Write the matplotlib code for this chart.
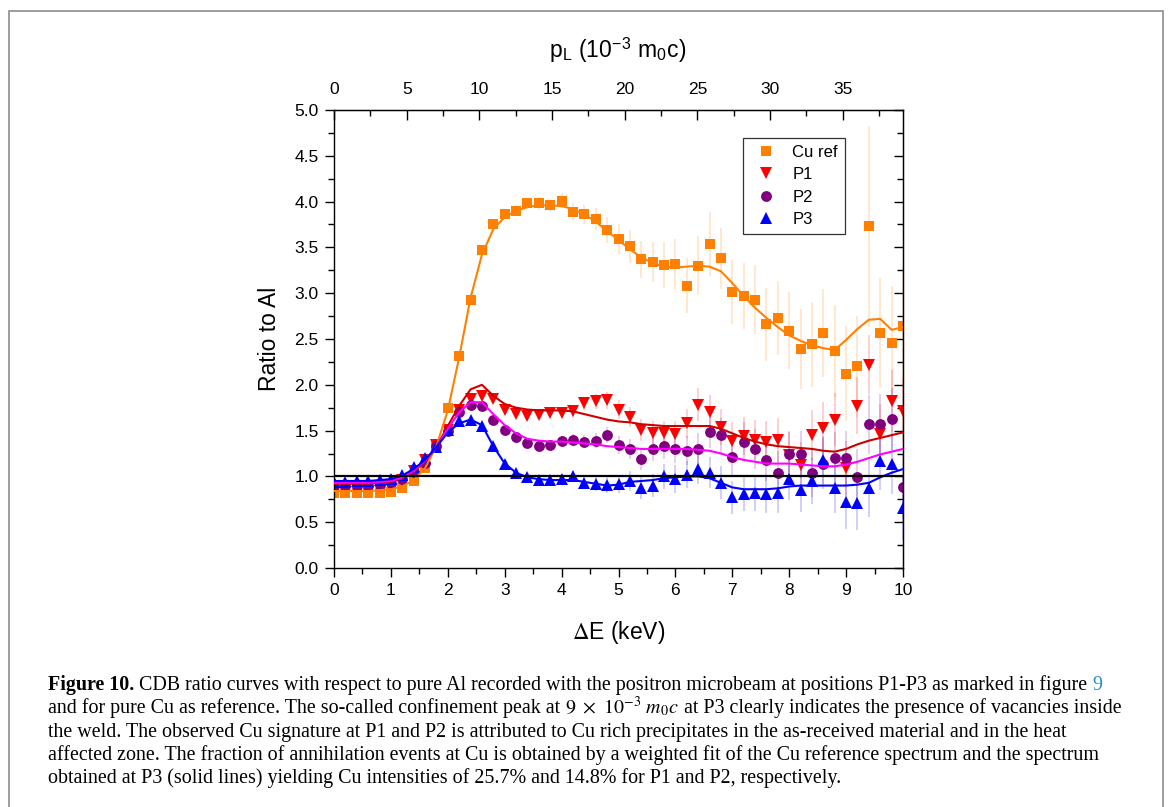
import matplotlib
matplotlib.use("Agg")
import matplotlib.pyplot as plt
import numpy as np
from matplotlib.lines import Line2D
from matplotlib.patches import Rectangle
from matplotlib.ticker import MultipleLocator, FormatStrFormatter

plt.rcParams['font.family'] = ['Liberation Sans', 'DejaVu Sans']
plt.rcParams['mathtext.fontset'] = 'stix'

# ---------------- data ----------------
energy = [0.0, 0.2, 0.4, 0.6, 0.8, 1.0, 1.2, 1.4, 1.6, 1.8, 2.0,
          2.2, 2.4, 2.6, 2.8, 3.0, 3.2, 3.4, 3.6, 3.8, 4.0,
          4.2, 4.4, 4.6, 4.8, 5.0, 5.2, 5.4, 5.6, 5.8, 6.0,
          6.2, 6.4, 6.6, 6.8, 7.0, 7.2, 7.4, 7.6, 7.8, 8.0,
          8.2, 8.4, 8.6, 8.8, 9.0, 9.2, 9.4, 9.6, 9.8, 10.0]

cu_ref = [0.82, 0.82, 0.82, 0.82, 0.82, 0.83, 0.87, 0.95, 1.09, 1.33, 1.75,
          2.31, 2.93, 3.47, 3.76, 3.87, 3.90, 3.98, 3.98, 3.96, 4.01,
          3.89, 3.86, 3.81, 3.69, 3.59, 3.51, 3.37, 3.34, 3.31, 3.32,
          3.08, 3.30, 3.54, 3.38, 3.01, 2.97, 2.93, 2.66, 2.73, 2.59,
          2.39, 2.44, 2.57, 2.37, 2.12, 2.20, 3.73, 2.57, 2.46, 2.64]
cu_err = [0.01, 0.01, 0.01, 0.01, 0.01, 0.01, 0.01, 0.02, 0.02, 0.02, 0.03,
          0.03, 0.04, 0.04, 0.05, 0.05, 0.06, 0.06, 0.07, 0.07, 0.08,
          0.09, 0.10, 0.12, 0.14, 0.16, 0.18, 0.20, 0.22, 0.25, 0.27,
          0.30, 0.32, 0.35, 0.33, 0.35, 0.36, 0.38, 0.40, 0.40, 0.42,
          0.44, 0.46, 0.48, 0.50, 0.52, 0.55, 1.10, 0.60, 0.62, 0.65]

p1 = [0.89, 0.89, 0.89, 0.89, 0.90, 0.91, 0.96, 1.06, 1.18, 1.34, 1.51,
      1.72, 1.85, 1.88, 1.84, 1.72, 1.68, 1.66, 1.67, 1.69, 1.69,
      1.71, 1.80, 1.82, 1.83, 1.73, 1.645, 1.51, 1.47, 1.47, 1.46,
      1.58, 1.78, 1.70, 1.54, 1.39, 1.44, 1.40, 1.38, 1.40, 1.23,
      1.12, 1.45, 1.53, 1.62, 1.09, 1.77, 2.22, 1.46, 1.82, 1.71]
p1_err = [0.01, 0.01, 0.01, 0.01, 0.01, 0.01, 0.01, 0.01, 0.01, 0.01, 0.01,
          0.02, 0.02, 0.02, 0.03, 0.03, 0.03, 0.04, 0.04, 0.05, 0.05,
          0.06, 0.07, 0.08, 0.09, 0.10, 0.11, 0.12, 0.13, 0.14, 0.15,
          0.16, 0.18, 0.19, 0.20, 0.20, 0.21, 0.22, 0.23, 0.24, 0.25,
          0.26, 0.27, 0.28, 0.29, 0.30, 0.31, 0.32, 0.33, 0.34, 0.35]

p2 = [0.90, 0.90, 0.90, 0.90, 0.91, 0.93, 0.97, 1.05, 1.15, 1.33, 1.50,
      1.70, 1.78, 1.77, 1.62, 1.51, 1.43, 1.36, 1.33, 1.34, 1.39,
      1.40, 1.38, 1.39, 1.45, 1.34, 1.30, 1.19, 1.30, 1.33, 1.30,
      1.28, 1.30, 1.49, 1.45, 1.21, 1.38, 1.30, 1.18, 1.04, 1.25,
      1.24, 1.04, 1.14, 1.20, 1.20, 0.99, 1.57, 1.57, 1.63, 0.88]
p2_err = [0.01, 0.01, 0.01, 0.01, 0.01, 0.01, 0.01, 0.01, 0.01, 0.01, 0.01,
          0.02, 0.02, 0.02, 0.03, 0.03, 0.03, 0.04, 0.04, 0.05, 0.05,
          0.06, 0.07, 0.08, 0.09, 0.10, 0.11, 0.12, 0.13, 0.14, 0.15,
          0.16, 0.17, 0.18, 0.19, 0.20, 0.21, 0.22, 0.23, 0.24, 0.25,
          0.26, 0.27, 0.28, 0.29, 0.30, 0.31, 0.32, 0.33, 0.34, 0.35]

p3 = [0.94, 0.94, 0.95, 0.95, 0.96, 0.97, 1.02, 1.10, 1.20, 1.32, 1.51,
      1.60, 1.62, 1.55, 1.33, 1.14, 1.04, 0.99, 0.96, 0.96, 0.97,
      1.00, 0.93, 0.92, 0.91, 0.92, 0.95, 0.87, 0.90, 1.00, 0.97,
      1.02, 1.08, 1.04, 0.93, 0.77, 0.81, 0.82, 0.81, 0.82, 0.97,
      0.85, 0.95, 1.18, 0.87, 0.72, 0.71, 0.87, 1.17, 1.14, 0.65]
p3_err = [0.01, 0.01, 0.01, 0.01, 0.01, 0.01, 0.01, 0.01, 0.01, 0.01, 0.01,
          0.02, 0.02, 0.02, 0.03, 0.03, 0.03, 0.04, 0.04, 0.05, 0.05,
          0.06, 0.07, 0.08, 0.09, 0.10, 0.11, 0.12, 0.13, 0.14, 0.15,
          0.15, 0.16, 0.17, 0.18, 0.18, 0.19, 0.20, 0.21, 0.22, 0.23,
          0.24, 0.25, 0.26, 0.27, 0.29, 0.30, 0.31, 0.32, 0.33, 0.34]

# fitted curves (solid lines)
cu_fit = [0.84, 0.84, 0.84, 0.84, 0.85, 0.86, 0.89, 0.96, 1.09, 1.33, 1.72,
          2.30, 2.95, 3.42, 3.70, 3.83, 3.90, 3.94, 3.96, 3.96, 3.95,
          3.92, 3.86, 3.78, 3.68, 3.58, 3.48, 3.39, 3.33, 3.29, 3.28,
          3.29, 3.30, 3.29, 3.24, 3.11, 2.97, 2.84, 2.73, 2.63, 2.54,
          2.48, 2.43, 2.40, 2.38, 2.49, 2.61, 2.71, 2.72, 2.60, 2.63]
p1_fit = [0.92, 0.92, 0.92, 0.92, 0.93, 0.94, 0.98, 1.05, 1.16, 1.32, 1.55,
          1.77, 1.95, 2.00, 1.88, 1.79, 1.75, 1.73, 1.72, 1.72, 1.72,
          1.71, 1.68, 1.65, 1.62, 1.60, 1.59, 1.57, 1.56, 1.55, 1.55,
          1.55, 1.55, 1.55, 1.52, 1.47, 1.42, 1.38, 1.35, 1.33, 1.32,
          1.31, 1.30, 1.28, 1.27, 1.30, 1.35, 1.39, 1.42, 1.45, 1.48]
p2_fit = [0.93, 0.93, 0.93, 0.93, 0.94, 0.95, 0.99, 1.06, 1.17, 1.32, 1.52,
          1.70, 1.81, 1.81, 1.68, 1.56, 1.47, 1.41, 1.39, 1.38, 1.38,
          1.37, 1.36, 1.35, 1.33, 1.32, 1.31, 1.30, 1.30, 1.30, 1.30,
          1.30, 1.29, 1.28, 1.25, 1.21, 1.18, 1.16, 1.14, 1.14, 1.14,
          1.13, 1.12, 1.11, 1.11, 1.13, 1.16, 1.20, 1.24, 1.27, 1.30]
p3_fit = [0.95, 0.95, 0.95, 0.95, 0.96, 0.97, 1.01, 1.08, 1.18, 1.32, 1.48,
          1.58, 1.62, 1.56, 1.33, 1.14, 1.04, 0.99, 0.97, 0.96, 0.96,
          0.96, 0.94, 0.92, 0.90, 0.91, 0.94, 0.95, 0.96, 0.98, 0.99,
          1.00, 1.00, 0.98, 0.93, 0.88, 0.86, 0.86, 0.86, 0.87, 0.89,
          0.90, 0.90, 0.90, 0.90, 0.90, 0.91, 0.93, 0.99, 1.04, 1.08]

labels = ['Cu ref', 'P1', 'P2', 'P3']
PL_PER_KEV = 3.914   # 10^-3 m0c per keV

# ---------------- figure ----------------
W, H = 1171, 807
fig = plt.figure(figsize=(W / 100, H / 100), dpi=100)
fig.patch.set_facecolor('white')

# outer frame
fig.patches.append(Rectangle((9 / W, -0.02), (1163 - 9) / W, 1 - 11 / H + 0.02,
                             transform=fig.transFigure, fill=False,
                             edgecolor='#8c8c8c', lw=1.2))

ax = fig.add_axes([334 / W, 1 - 568 / H, (903 - 334) / W, (568 - 110) / H])

c_cu, c_p1, c_p2, c_p3 = '#ff8000', '#ff0000', '#800080', '#0000ff'
series = [(cu_ref, cu_err, c_cu, 's', 7.3),
          (p1, p1_err, c_p1, 'v', 8.5),
          (p2, p2_err, c_p2, 'o', 7.8),
          (p3, p3_err, c_p3, '^', 8.5)]

for y, e, c, m, ms in series:
    ax.errorbar(energy, y, yerr=e, fmt='none', ecolor=c, alpha=0.22,
                elinewidth=1.2, capsize=0, zorder=1)
for y, e, c, m, ms in series:
    ax.plot(energy, y, linestyle='none', marker=m, markersize=ms,
            color=c, markeredgewidth=0, zorder=2)

ax.plot(energy, cu_fit, color='#ff8000', lw=1.5, zorder=3)
ax.plot(energy, p1_fit, color='#cc0000', lw=1.5, zorder=3)
ax.plot(energy, p2_fit, color='#ff00ff', lw=1.5, zorder=3)
ax.plot(energy, p3_fit, color='#0000ff', lw=1.5, zorder=3)
ax.axhline(1.0, color='black', lw=1.6, zorder=4)

TICK_FS = 12.5
LABEL_FS = 16.5

ax.set_xlim(0, 10)
ax.set_ylim(0, 5)
ax.xaxis.set_major_locator(MultipleLocator(1))
ax.xaxis.set_minor_locator(MultipleLocator(0.5))
ax.yaxis.set_major_locator(MultipleLocator(0.5))
ax.yaxis.set_minor_locator(MultipleLocator(0.25))
ax.yaxis.set_major_formatter(FormatStrFormatter('%.1f'))
ax.tick_params(which='both', direction='out', labelsize=TICK_FS, width=1, pad=4.5)
ax.tick_params(which='major', length=6.5)
ax.tick_params(which='minor', length=4)
for s in ax.spines.values():
    s.set_linewidth(1.0)

ax.set_xlabel(r'$\Delta$E (keV)', fontsize=LABEL_FS)
ax.xaxis.set_label_coords(0.5, -0.14)
ax.xaxis.label.set_va('center')
ax.set_ylabel('Ratio to Al', fontsize=LABEL_FS)
ax.yaxis.set_label_coords(-0.1125, 0.5)
ax.yaxis.label.set_va('center')

# right axis: inward ticks, no labels
secy = ax.secondary_yaxis('right')
secy.yaxis.set_major_locator(MultipleLocator(0.5))
secy.yaxis.set_minor_locator(MultipleLocator(0.25))
secy.tick_params(which='both', direction='in', labelright=False, width=1)
secy.tick_params(which='major', length=6.5)
secy.tick_params(which='minor', length=4)

# top axis in p_L
secx = ax.secondary_xaxis('top', functions=(lambda e: e * PL_PER_KEV,
                                            lambda p: p / PL_PER_KEV))
secx.xaxis.set_major_locator(MultipleLocator(5))
secx.xaxis.set_minor_locator(MultipleLocator(2.5))
secx.tick_params(which='both', direction='in', labelsize=TICK_FS, width=1, pad=9)
secx.tick_params(which='major', length=7)
secx.tick_params(which='minor', length=4.5)
fig.text(618 / W, 1 - 50 / H,
         r'p$_\mathregular{L}$ (10$^\mathregular{-3}$ m$_\mathregular{0}$c)',
         fontsize=LABEL_FS, ha='center', va='center')

# legend
handles = [Line2D([], [], linestyle='none', marker=m, markersize=ms, color=c,
                  markeredgewidth=0) for (y, e, c, m, ms) in series]
leg = ax.legend(handles, labels, loc='upper left',
                bbox_to_anchor=((743 - 334) / 569, (568 - 138) / 458),
                frameon=True, fancybox=False, edgecolor='black',
                fontsize=12, handlelength=2.0, handletextpad=0.56,
                labelspacing=0.45, borderpad=0.4, borderaxespad=0)
leg.get_frame().set_linewidth(0.9)

# ---------------- caption ----------------
cap_font = ['Liberation Serif', 'DejaVu Serif']
caption_lines = [
    [("Figure 10.", 'bold', 'black'),
     (" CDB ratio curves with respect to pure Al recorded with the positron microbeam at positions P1-P3 as marked in figure ", 'normal', 'black'),
     ("9", 'normal', '#2a8fc9')],
    [("and for pure Cu as reference. The so-called confinement peak at ", 'normal', 'black'),
     (r"$9\ \times\ 10^{-3}\ m_0c$", 'normal', 'black'),
     (" at P3 clearly indicates the presence of vacancies inside", 'normal', 'black')],
    [("the weld. The observed Cu signature at P1 and P2 is attributed to Cu rich precipitates in the as-received material and in the heat", 'normal', 'black')],
    [("affected zone. The fraction of annihilation events at Cu is obtained by a weighted fit of the Cu reference spectrum and the spectrum", 'normal', 'black')],
    [("obtained at P3 (solid lines) yielding Cu intensities of 25.7% and 14.8% for P1 and P2, respectively.", 'normal', 'black')],
]
baselines = [690, 713, 736.5, 760, 783]
x0 = 48

renderer = fig.canvas.get_renderer()


def draw_line(segs, yb, size, draw=True):
    x = x0
    objs = []
    for txt, wt, col in segs:
        t = fig.text(x / W, 1 - yb / H, txt, fontsize=size, fontweight=wt,
                     color=col, family=cap_font, va='baseline', ha='left')
        bb = t.get_window_extent(renderer=renderer)
        x = x + bb.width
        objs.append(t)
    if not draw:
        for t in objs:
            t.remove()
    return x - x0


# fit font size to the width of the first line
target = 1108 - x0
trial = 14.0
w = draw_line(caption_lines[0], baselines[0], trial, draw=False)
size = trial * target / w
for segs, yb in zip(caption_lines, baselines):
    draw_line(segs, yb, size)

fig.savefig('out.png', dpi=100, facecolor='white')
